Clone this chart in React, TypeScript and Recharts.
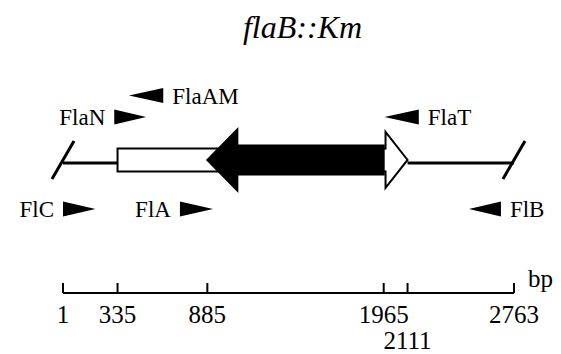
import React from 'react';
import { ComposedChart, XAxis, YAxis, ReferenceArea, ReferenceLine, ReferenceDot } from 'recharts';

// construct coordinates in bp
const scaleTicks = [1, 335, 885, 1965, 2111, 2763];

// flaB (open arrow) with the Km cassette (filled arrow) inserted in reverse
const geneNames = ['flaB', 'Km'];
const geneStarts = [335, 885];
const geneEnds = [2111, 1965];
const geneStrands = [1, -1];

// primers
const primerNames = ['FlaN', 'FlaAM', 'FlaT', 'FlC', 'FlA', 'FlB'];
const primerStarts = [315, 405, 1970, 1, 717, 2487];
const primerEnds = [510, 615, 2180, 200, 920, 2683];
const primerStrands = [1, -1, -1, 1, 1, -1];

const W = 561;
const H = 354;
const FONT = 'Liberation Serif, DejaVu Serif, serif';

// vertical lanes, y axis runs 0..100 over the drawing area
const LANE = { gene: 57.1, backbone: 55.8, upper: 75.5, top: 84.8, lower: 36.1 };
const primerLane: Record<string, number> = {
  FlaN: LANE.upper,
  FlaAM: LANE.top,
  FlaT: LANE.upper,
  FlC: LANE.lower,
  FlA: LANE.lower,
  FlB: LANE.lower,
};

const geneStyle: Record<string, { fill: string; shaft: number; head: number; headLen: number }> = {
  flaB: { fill: '#fff', shaft: 11.5, head: 28, headLen: 22 },
  Km: { fill: '#000', shaft: 14.5, head: 30.5, headLen: 30 },
};

const arrowPoints = (x0: number, x1: number, cy: number, strand: number, shaft: number, head: number, headLen: number) => {
  if (strand > 0) {
    const b = x1 - headLen;
    return [[x0, cy - shaft], [b, cy - shaft], [b, cy - head], [x1, cy], [b, cy + head], [b, cy + shaft], [x0, cy + shaft]];
  }
  const b = x0 + headLen;
  return [[x1, cy - shaft], [b, cy - shaft], [b, cy - head], [x0, cy], [b, cy + head], [b, cy + shaft], [x1, cy + shaft]];
};

const geneShape = (name: string, strand: number) => (props: any) => {
  const { x, y, width, height } = props;
  const s = geneStyle[name];
  const pts = arrowPoints(x, x + width, y + height / 2, strand, s.shaft, s.head, s.headLen);
  return (
    <polygon
      points={pts.map((p) => p.join(',')).join(' ')}
      fill={s.fill}
      stroke="#000"
      strokeWidth={2}
    />
  );
};

const primerShape = (strand: number) => (props: any) => {
  const { x, y, width, height } = props;
  const cy = y + height / 2;
  const h = 7.5;
  const pts = strand > 0
    ? [[x, cy - h], [x + width, cy], [x, cy + h]]
    : [[x + width, cy - h], [x, cy], [x + width, cy + h]];
  return <polygon points={pts.map((p) => p.join(',')).join(' ')} fill="#000" />;
};

const slashShape = (props: any) => {
  const { cx, cy } = props;
  return <line x1={cx - 11} y1={cy + 19} x2={cx + 11} y2={cy - 19} stroke="#000" strokeWidth={3} />;
};

const RulerTick = (props: any) => {
  const { x, y, payload } = props;
  const i = scaleTicks.indexOf(payload.value);
  const crowded = i > 0 && payload.value - scaleTicks[i - 1] < 250;
  return (
    <g>
      <line x1={x} x2={x} y1={y} y2={y - 10} stroke="#000" strokeWidth={2} />
      <text x={x} y={y + (crowded ? 56 : 30)} textAnchor="middle" fontFamily={FONT} fontSize={25} fill="#000">
        {payload.value}
      </text>
      {i === scaleTicks.length - 1 && (
        <text x={x + 14} y={y - 6} fontFamily={FONT} fontSize={25} fill="#000">
          bp
        </text>
      )}
    </g>
  );
};

export default function App() {
  const flaB = geneNames.indexOf('flaB');
  return (
    <div style={{ position: 'absolute', left: 0, top: 0, width: W, height: H, background: '#fff' }}>
      <div
        style={{
          position: 'absolute',
          left: 0,
          top: 11,
          width: 605,
          textAlign: 'center',
          fontFamily: FONT,
          fontStyle: 'italic',
          fontSize: 32,
          lineHeight: '32px',
        }}
      >
        flaB::Km
      </div>
      <ComposedChart width={W} height={H} margin={{ top: 60, right: 47, bottom: 0, left: 63 }}>
        <XAxis
          type="number"
          dataKey="x"
          domain={[scaleTicks[0], scaleTicks[scaleTicks.length - 1]]}
          allowDataOverflow
          ticks={scaleTicks}
          interval={0}
          height={61}
          axisLine={{ stroke: '#000', strokeWidth: 2 }}
          tickLine={false}
          tickSize={0}
          tickMargin={0}
          tick={RulerTick}
        />
        <YAxis type="number" domain={[0, 100]} hide allowDataOverflow />

        {/* flanking chromosome */}
        <ReferenceLine
          segment={[{ x: scaleTicks[0], y: LANE.backbone }, { x: geneStarts[flaB], y: LANE.backbone }]}
          stroke="#000"
          strokeWidth={3}
          ifOverflow="visible"
        />
        <ReferenceLine
          segment={[{ x: geneEnds[flaB], y: LANE.backbone }, { x: scaleTicks[scaleTicks.length - 1], y: LANE.backbone }]}
          stroke="#000"
          strokeWidth={3}
          ifOverflow="visible"
        />
        <ReferenceDot x={scaleTicks[0]} y={LANE.gene} ifOverflow="visible" shape={slashShape} />
        <ReferenceDot x={scaleTicks[scaleTicks.length - 1]} y={LANE.gene} ifOverflow="visible" shape={slashShape} />

        {geneNames.map((name, i) => (
          <ReferenceArea
            key={name}
            x1={Math.min(geneStarts[i], geneEnds[i])}
            x2={Math.max(geneStarts[i], geneEnds[i])}
            y1={LANE.gene - 1}
            y2={LANE.gene + 1}
            ifOverflow="visible"
            shape={geneShape(name, geneStrands[i])}
          />
        ))}

        {primerNames.map((name, i) => (
          <ReferenceArea
            key={name}
            x1={primerStarts[i]}
            x2={primerEnds[i]}
            y1={primerLane[name] - 3.2}
            y2={primerLane[name] + 3.2}
            ifOverflow="visible"
            shape={primerShape(primerStrands[i])}
            label={{
              value: name,
              position: primerStrands[i] > 0 ? 'left' : 'right',
              offset: 9,
              fill: '#000',
              fontSize: 23,
              fontFamily: FONT,
            }}
          />
        ))}
      </ComposedChart>
    </div>
  );
}
